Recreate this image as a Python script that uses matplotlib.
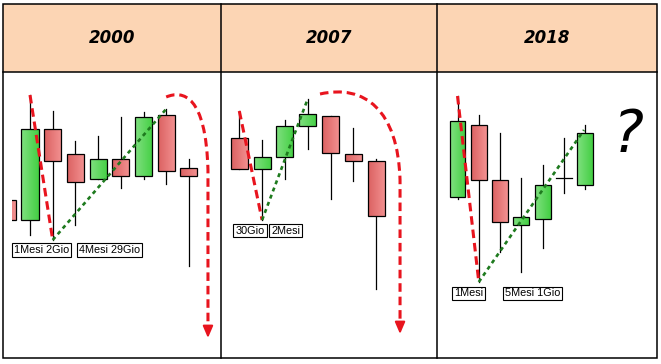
import matplotlib
matplotlib.use('Agg')
import matplotlib.pyplot as plt
import numpy as np
from matplotlib.patches import Rectangle, PathPatch
from matplotlib.path import Path
from matplotlib.colors import LinearSegmentedColormap

W, H = 661, 364

years = ['2000', '2007', '2018']

# candles (price units, higher = up)
idx_2000 = [-1, 0, 1, 2, 3, 4, 5, 6, 7]
open_2000 = [164, 144, 235, 210, 185, 205, 188, 249, 196]
high_2000 = [164, 269, 253, 223, 228, 247, 252, 255, 205]
low_2000 = [144, 129, 124, 139, 185, 176, 185, 180, 98]
close_2000 = [144, 235, 203, 182, 205, 188, 247, 193, 188]

idx_2007 = [0, 1, 2, 3, 4, 5, 6]
open_2007 = [226, 195, 207, 238, 248, 210, 203]
high_2007 = [253, 224, 244, 265, 248, 236, 205]
low_2007 = [195, 144, 185, 215, 165, 183, 75]
close_2007 = [195, 207, 238, 250, 211, 203, 148]

idx_2018 = [0, 1, 2, 3, 4, 5, 6]
open_2018 = [167, 239, 184, 139, 145, 186, 179]
high_2018 = [268, 249, 231, 186, 199, 226, 239]
low_2018 = [165, 82, 112, 92, 116, 171, 175]
close_2018 = [243, 184, 142, 147, 179, 186, 231]

# trend lines: (x, price)
fall_2000 = [(0, 269), (1, 124)]
rise_2000 = [(1, 124), (6, 255)]
fall_2007 = [(0, 253), (1, 144)]
rise_2007 = [(1, 144), (3, 265)]
fall_2018 = [(0, 268), (1, 82)]
rise_2018 = [(1, 82), (5.94, 234)]

# curved "crash" arrows: start, two bezier controls, end, line end, tip
arc_2000 = [(6.0, 267), (6.74, 274), (7.75, 269), (7.84, 194), (7.84, 34), (7.84, 26)]
arc_2007 = [(3.54, 270), (5.5, 280), (6.96, 254), (7.05, 184), (7.05, 38), (7.05, 30)]

labels_2000 = ['1Mesi 2Gio', '4Mesi 29Gio']
labelx_2000 = [0.51, 3.5]
labely_2000 = 114
labels_2007 = ['30Gio', '2Mesi']
labelx_2007 = [0.47, 2.03]
labely_2007 = 133.5
labels_2018 = ['1Mesi', '5Mesi 1Gio']
labelx_2018 = [0.52, 3.52]
labely_2018 = 70.5

RED = '#e8141e'
DKGREEN = '#1e7a1e'
PEACH = '#fcd5b4'
green_cm = LinearSegmentedColormap.from_list('g', ['#80e080', '#44cf44'])
red_cm = LinearSegmentedColormap.from_list('r', ['#db6262', '#f39191'])
grad = np.linspace(0, 1, 32).reshape(1, -1)

fig = plt.figure(figsize=(W / 100, H / 100), dpi=100)

# table geometry in pixels
tl, tr, tt, hb, tb = 3, 657, 4, 72, 358
splits = [221, 437]
# per panel: first candle centre px, step px, left px, right px
layout = [(30, 22.7, 12, 221), (239.3, 22.8, 221, 437), (457.5, 21.3, 437, 657)]


def candles(ax, idx, o, h, l, c, w=0.75):
    for i, op, hi, lo, cl in zip(idx, o, h, l, c):
        ax.plot([i, i], [lo, hi], color='black', lw=0.9, zorder=1)
        if op == cl:
            ax.plot([i - w / 2, i + w / 2], [op, op], color='black', lw=0.9, zorder=3)
            continue
        cm = green_cm if cl > op else red_cm
        b0, b1 = min(op, cl), max(op, cl)
        ax.imshow(grad, cmap=cm, extent=(i - w / 2, i + w / 2, b0, b1),
                  aspect='auto', zorder=2, interpolation='bilinear')
        ax.add_patch(Rectangle((i - w / 2, b0), w, b1 - b0, fill=False,
                               ec='black', lw=0.9, zorder=3))


def trend(ax, pts, color, dashes, lw):
    xs, ys = zip(*pts)
    ax.plot(xs, ys, color=color, lw=lw, dashes=dashes, zorder=4,
            solid_capstyle='butt', dash_capstyle='butt')


def arc(ax, pts):
    p0, p1, p2, p3, p4, tip = pts
    path = Path([p0, p1, p2, p3, p4],
                [Path.MOVETO, Path.CURVE4, Path.CURVE4, Path.CURVE4, Path.LINETO])
    pp = PathPatch(path, fill=False, ec=RED, lw=2.2, zorder=4)
    pp.set_linestyle((0, (2.8, 1.6)))
    ax.add_patch(pp)
    ax.annotate('', xy=tip, xytext=p4,
                arrowprops=dict(arrowstyle='-|>,head_length=0.7,head_width=0.3',
                                color=RED, lw=1.5, mutation_scale=10, shrinkA=0, shrinkB=0),
                zorder=5)


def labels(ax, texts, xs, y):
    for t, x in zip(texts, xs):
        ax.text(x, y, t, ha='center', va='center', fontsize=7.8,
                family='Liberation Sans', zorder=6,
                bbox=dict(boxstyle='square,pad=0.18', fc='white', ec='black', lw=0.8))


data = [
    (idx_2000, open_2000, high_2000, low_2000, close_2000,
     fall_2000, rise_2000, arc_2000, labels_2000, labelx_2000, labely_2000),
    (idx_2007, open_2007, high_2007, low_2007, close_2007,
     fall_2007, rise_2007, arc_2007, labels_2007, labelx_2007, labely_2007),
    (idx_2018, open_2018, high_2018, low_2018, close_2018,
     fall_2018, rise_2018, None, labels_2018, labelx_2018, labely_2018),
]

for (c0, step, left, right), d in zip(layout, data):
    idx, o, h, l, c, fall, rise, arrow, texts, lx, ly = d
    ax = fig.add_axes([left / W, (H - tb) / H, (right - left) / W, (tb - hb) / H])
    ax.patch.set_visible(False)
    candles(ax, idx, o, h, l, c)
    trend(ax, fall, RED, (2.8, 1.6), 2.2)
    trend(ax, rise, DKGREEN, (1.5, 1.4), 1.9)
    if arrow is not None:
        arc(ax, arrow)
    labels(ax, texts, lx, ly)
    ax.set_xlim((left - c0) / step, (right - c0) / step)
    ax.set_ylim(H - tb, H - hb)
    ax.axis('off')
    if arrow is None:
        ax.text(8.0, 228, '?', ha='center', va='center', fontsize=42,
                style='italic', family='DejaVu Sans', zorder=6)

# table frame and header on top
top = fig.add_axes([0, 0, 1, 1], zorder=10)
top.patch.set_visible(False)
top.set_xlim(0, W)
top.set_ylim(H, 0)
top.axis('off')
top.add_patch(Rectangle((tl, tt), tr - tl, hb - tt, fc=PEACH, ec='none', zorder=0))
top.add_patch(Rectangle((tl, tt), tr - tl, tb - tt, fill=False, ec='black', lw=1.1))
top.plot([tl, tr], [hb, hb], color='black', lw=1.1)
for s in splits:
    top.plot([s, s], [tt, tb], color='black', lw=1.1)
edges = [tl] + splits + [tr]
for yr, a, b in zip(years, edges[:-1], edges[1:]):
    top.text((a + b) / 2, 38, yr, ha='center', va='center', fontsize=12,
             weight='bold', style='italic', family='DejaVu Sans')

fig.savefig('out.png', dpi=100)
